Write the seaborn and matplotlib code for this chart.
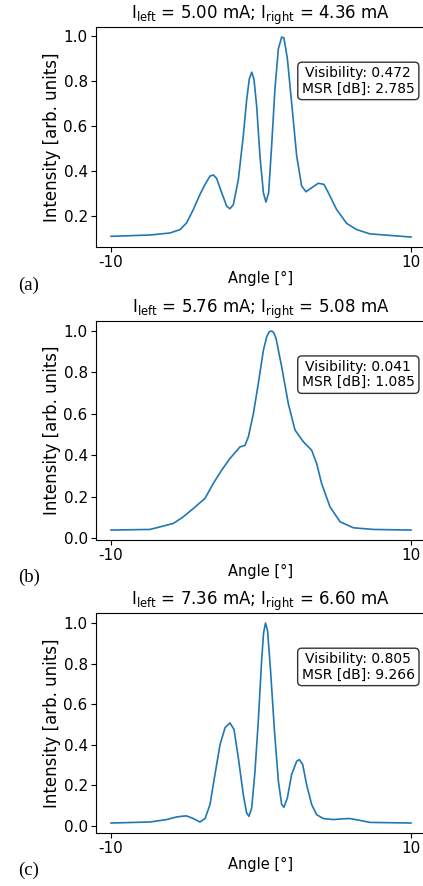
import numpy as np
import pandas as pd
import matplotlib
matplotlib.use("Agg")
import matplotlib.pyplot as plt
import seaborn as sns


# Panel titles / drive currents
titles = [
    r"I$_\mathrm{left}$ = 5.00 mA; I$_\mathrm{right}$ = 4.36 mA",
    r"I$_\mathrm{left}$ = 5.76 mA; I$_\mathrm{right}$ = 5.08 mA",
    r"I$_\mathrm{left}$ = 7.36 mA; I$_\mathrm{right}$ = 6.60 mA",
]
panel_labels = ["(a)", "(b)", "(c)"]
visibility = [0.472, 0.041, 0.805]
msr_db = [2.785, 1.085, 9.266]

# Far-field profiles (angle in degrees, normalised intensity)
angle_a = [-10, -7.4, -6.07, -5.71, -5.4, -4.96, -4.51, -4.07, -3.73, -3.4, -3.18, -2.96,
           -2.62, -2.29, -2.07, -1.84, -1.51, -1.18, -0.96, -0.78, -0.62, -0.47, -0.29,
           -0.07, 0.16, 0.33, 0.51, 0.71, 0.93, 1.16, 1.38, 1.53, 1.76, 2.04, 2.38, 2.71,
           3.0, 3.38, 3.82, 4.2, 4.49, 5.04, 5.71, 6.38, 7.27, 10]
inten_a = [0.107, 0.113, 0.122, 0.130, 0.137, 0.167, 0.227, 0.294, 0.339, 0.376, 0.381, 0.366,
           0.302, 0.242, 0.230, 0.249, 0.361, 0.556, 0.713, 0.810, 0.840, 0.810, 0.690,
           0.466, 0.302, 0.260, 0.302, 0.511, 0.765, 0.945, 0.997, 0.993, 0.900, 0.705,
           0.466, 0.332, 0.306, 0.324, 0.344, 0.339, 0.302, 0.227, 0.165, 0.137, 0.118, 0.104]

angle_b = [-10, -7.4, -5.84, -5.18, -4.51, -3.73, -3.18, -2.62, -2.07, -1.4, -1.07, -0.84,
           -0.51, -0.18, 0.16, 0.38, 0.55, 0.71, 0.85, 1.0, 1.38, 1.82, 2.27, 2.82, 3.38,
           3.71, 4.04, 4.6, 5.27, 6.16, 7.49, 10]
inten_b = [0.040, 0.043, 0.072, 0.104, 0.144, 0.193, 0.265, 0.329, 0.385, 0.441, 0.448, 0.490,
           0.600, 0.746, 0.907, 0.972, 0.996, 1.000, 0.992, 0.965, 0.827, 0.650, 0.522,
           0.466, 0.425, 0.361, 0.265, 0.152, 0.080, 0.051, 0.043, 0.040]

angle_c = [-10, -7.4, -6.29, -5.62, -5.2, -4.96, -4.51, -4.07, -3.73, -3.4, -3.07, -2.73,
           -2.4, -2.07, -1.8, -1.51, -1.18, -0.96, -0.8, -0.62, -0.4, -0.18, 0.04, 0.17,
           0.3, 0.44, 0.64, 0.9, 1.16, 1.38, 1.53, 1.76, 2.04, 2.38, 2.56, 2.78, 3.04,
           3.38, 3.71, 4.16, 4.82, 5.5, 5.93, 6.6, 7.27, 10]
inten_c = [0.013, 0.018, 0.030, 0.043, 0.047, 0.048, 0.035, 0.018, 0.035, 0.104, 0.252, 0.400,
           0.483, 0.507, 0.475, 0.334, 0.153, 0.063, 0.046, 0.087, 0.269, 0.516, 0.812, 0.950,
           1.000, 0.961, 0.763, 0.466, 0.219, 0.104, 0.091, 0.137, 0.252, 0.318, 0.326,
           0.302, 0.203, 0.104, 0.054, 0.035, 0.030, 0.034, 0.035, 0.026, 0.016, 0.013]

curves = [(angle_a, inten_a), (angle_b, inten_b), (angle_c, inten_c)]

# axes rectangles in figure fraction (left, bottom, width, height)
axes_pos = [
    [0.227, 0.7212, 0.780, 0.2483],
    [0.227, 0.3905, 0.780, 0.2472],
    [0.227, 0.0598, 0.780, 0.2483],
]
label_y = [1 - 285 / 886, 1 - 577 / 886, 1 - 870 / 886]


def plot_panel(fig, i):
    ax = fig.add_axes(axes_pos[i])
    df = pd.DataFrame({"angle": curves[i][0], "intensity": curves[i][1]})
    sns.lineplot(data=df, x="angle", y="intensity", ax=ax, color="#1f77b4", linewidth=1.2)
    ax.set_xticks([-10, 10])
    ax.set_xticklabels(["-10", "10"], fontsize=11)
    ax.tick_params(axis="x", pad=2)
    ax.tick_params(axis="y", labelsize=11, pad=2.5)
    ax.set_xlabel("Angle [°]", fontsize=10.5, labelpad=1)
    ax.set_ylabel("Intensity [arb. units]", fontsize=12, labelpad=2)
    ax.set_title(titles[i], fontsize=12, pad=5)
    ax.text(0.795, 0.755, f"Visibility: {visibility[i]:.3f}\nMSR [dB]: {msr_db[i]:.3f}",
            transform=ax.transAxes, ha="center", va="center", fontsize=10,
            linespacing=1.1,
            bbox=dict(boxstyle="round,pad=0.3", fc="white", ec="black", alpha=0.8))
    fig.text(0.068, label_y[i], panel_labels[i], ha="center", va="center",
             fontsize=13.5, family="Liberation Serif")


def main():
    fig = plt.figure(figsize=(4.23, 8.86), dpi=100)
    for i in range(3):
        plot_panel(fig, i)
    fig.savefig("out.png", dpi=100)


if __name__ == "__main__":
    main()
